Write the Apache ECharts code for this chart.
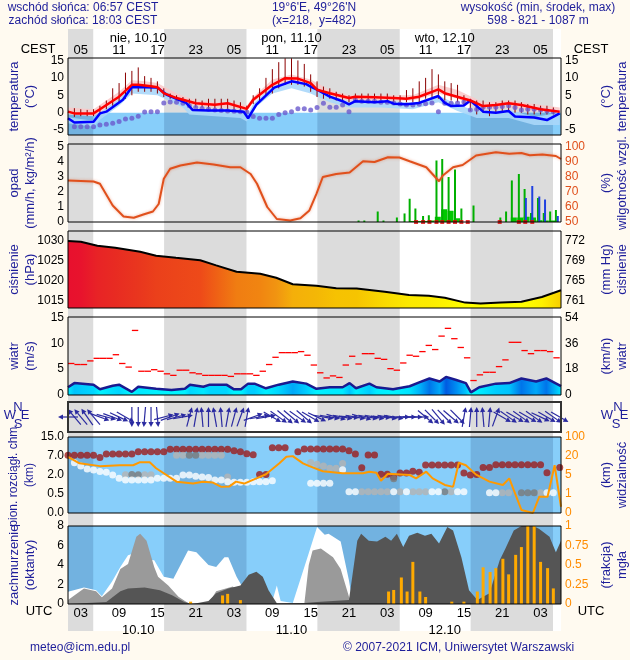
<!DOCTYPE html>
<html><head><meta charset="utf-8">
<script src="https://cdn.jsdelivr.net/npm/echarts@6.0.0/dist/echarts.min.js"></script>
<style>html,body{margin:0;padding:0;background:#fffaf0}#chart{width:630px;height:660px}</style>
</head><body><div id="chart"></div><script>
// ---------------- DATA (hours UTC counted from 10.10 00:00) ----------------
const nightBands = [[1,4.95],[16.05,28.95],[40.05,52.95],[64.05,76.95]];
const gridHours = [3,6,9,12,15,18,21,24,27,30,33,36,39,42,45,48,51,54,57,60,63,66,69,72,75];
const labelHours = [3,9,15,21,27,33,39,45,51,57,63,69,75];
const dayCenters = [12,36,60];
const dayNamesTop = ['nie, 10.10','pon, 11.10','wto, 12.10'];
const dayNamesBottom = ['10.10','11.10','12.10'];

const tempTicks = [-5,0,5,10,15];
const tempRed = [[1,0.3],[2,-0.2],[5,-0.2],[6,1],[9,4.6],[11,8],[12,8],[14,7.6],[15,7.3],[16,5.6],[18,4.2],[21,2.7],[24,2.3],[26,2.7],[29,1.1],[30,3.7],[33,8],[35,9.9],[37,9.8],[39,8.5],[40,6.6],[42,5.6],[45,4.2],[46,4.6],[49,4.4],[52,4.2],[54,4],[56,4.6],[57,5.3],[58,6],[59,6.7],[60,5.6],[64,3.5],[66,1.9],[68,2.2],[70,2.7],[72,2.2],[75,1],[78,0.3]];
const tempBlue = [[1,-1.6],[2,-2.8],[5,-2.6],[6,-0.2],[7,0.3],[9.6,3.7],[11,7.4],[15,7.2],[16.4,5.2],[19.5,2.8],[20.5,0.8],[23,0.6],[26,0.6],[28.5,0.3],[29.2,-1.6],[30.5,2.3],[33.3,7.2],[36,9],[38.3,8.2],[39,7.5],[40,6.6],[42,4.6],[44,3.3],[45,2.4],[46,3.3],[49,3],[51,3.3],[52,2.6],[54,2.4],[56,2.8],[59,4.8],[60,2.8],[61,1.9],[63,2.1],[64,3.5],[66,0.3],[68,0],[70,0.5],[71,-1.1],[74,-1.4],[76,-2.1],[78,-0.2]];
const pinkBand = [[1,-0.5,1.5],[5,-1,1],[9,3,6],[11,7,9.3],[13,7,9],[15,6.5,8.5],[18,3.5,5.5],[21,2,3.5],[24,1.5,3],[27,1.5,3],[29,0.5,2],[30,3,4.5],[33,7,9.5],[36,9,11],[39,7.5,9.5],[42,4.5,6.5],[45,3.5,5],[50,3.5,5],[55,3.5,5],[59,5.5,8],[62,4,6.5],[66,1,3],[70,1.5,3.5],[74,0.5,2.5],[78,0,1.5]];
const lightBlueBand = [[1,-3,-1.3],[5,-4,-2.3],[6,-2,0],[9,2,4],[11,5.5,7.8],[15,5,7.5],[19,1.5,3.2],[20,-0.5,1],[24,-1,1],[28,-1.5,0.6],[29,-2.5,-1.3],[30,1,2.6],[33,5.5,7.5],[36,7,9.4],[39,5.5,8],[42,3,5],[45,1.5,3],[50,1.5,3.5],[55,1,2.8],[59,3,5],[62,0.5,2.3],[65,-1.5,0.5],[70,-1.5,0.8],[74,-3.5,-1.2],[78,-3.5,0]];
const tempWhiskers = [[2,-1.2,1.3],[3,-1,1],[4,-1,0.8],[5,-1,1],[6,0,2],[7,1,3.5],[8,2,7],[9,3,8.5],[10,4,11.5],[11,5,12],[12,6,13],[13,6,10.5],[14,6,10],[15,5.5,9],[16,4.5,7],[17,4,5.5],[18,3.5,5],[19,3,4.5],[20,2.5,4],[21,1.5,4],[22,1.5,3.5],[23,1,4],[24,1,4],[25,1,4],[26,1,4],[27,0.5,3.5],[28,0.5,3],[29,0,2],[30,2.5,5],[31,3,7],[32,5,10],[33,5.5,12.5],[34,7,14.5],[35,8,15.6],[36,8,15.6],[37,8,15],[38,7.5,14],[39,6,11],[40,4.5,9],[41,4,7.5],[42,4,7],[43,3.5,6],[44,3,5.5],[45,3,5],[46,3,5.5],[47,3,5.5],[48,3,5.5],[49,3,5.5],[50,3,5.5],[51,3,5.5],[52,3,5],[53,3,5],[54,3,6.5],[55,3,7],[56,3,9],[57,4,10],[58,4.5,12.5],[59,4,11],[60,3.5,9],[61,3.5,8.5],[62,3,8],[63,2,5],[64,0.5,4],[65,-0.5,3.5],[66,0,3.5],[67,-1,3],[68,0,3],[69,0.5,3.5],[70,0.5,3.5],[71,0,3.5],[72,0,3],[73,-0.5,2.5],[74,-0.5,2.5],[75,-0.5,2],[76,-0.5,2],[77,-0.5,1.5]];
const tempDotsStart = 2;
const tempDots = [-4,-4,-4,-4,-3.5,-3.3,-3,-2.5,-1.8,-1.6,
 -1,0.2,0.3,0.3,2.8,3.1,3,2.7,2,1.5,
 1.2,1,0.8,0.6,0.5,0.4,0.3,0.2,-1.1,-1.6,
 -1.6,-1.6,-0.5,0,0.3,1.1,1.1,0.8,1.5,2.7,
 1.6,1.6,2.2,0.3,3.7,3.3,3.3,3.3,3,3,
 2.8,2.5,2.2,2.2,2.4,2.6,2.8,0.3,2.7,2.7,
 2.8,3.1,0.8,1,1.6,1.6,1.6,1.8,2,1.5,
 0.8,1,1,0.8,0.5,0.3];

const precipTicks = [0,1,2,3,4,5];
const humidityTicks = [50,60,70,80,90,100];
const humidity = [[1,77.7],[5,77],[6,75.5],[8,61],[9.7,53.7],[11.3,52.8],[12.8,55],[14.3,57],[15.2,62],[16,78.8],[17,85.5],[18.6,87.7],[21.2,89.7],[23.8,88.3],[26.4,86.5],[28,86.5],[29.6,82],[30.6,75.5],[32.2,60],[33.7,52],[35.8,51],[37.4,52.5],[38.8,57.7],[39.9,68.8],[40.9,80],[43,82],[45.1,83],[47.2,90.5],[49,90],[51.1,93.2],[52.9,93],[54.5,90.5],[57.1,86.5],[59.1,77.2],[59.7,81],[61.3,86.5],[62.8,88],[64.9,94.3],[68,96.5],[70.1,95.5],[72,96],[73.3,94.5],[75.3,95],[77.4,94],[78.2,92]];
const precipConv = [[46.5,0.1],[47.4,0.1],[49.5,0.7],[50.4,0.1],[52.5,0.3],[53.7,0.57],[54.5,1.55],[55.4,0.9],[56.6,0.4],[57.5,0.45],[58.7,4.1],[59.6,4.2],[60.6,3],[61.6,3.5],[62.6,0.9],[64.5,1.1],[68.7,0.3],[69.6,0.7],[70.5,2.77],[71.6,3.2],[72.5,2.2],[73.5,0.6],[74.6,1.6],[75.5,0.6],[76.5,0.7],[77.4,0.8]];
const precipSnow = [[72.7,1.6],[73.7,2.4],[74.8,1.7],[75.7,1.5],[77.7,0.4]];
const precipLarge = [[54.6,0.07],[55.6,0.07],[56.6,0.07],[57.6,0.1],[58.6,0.35],[59.6,0.85],[60.6,0.75],[61.6,0.25],[70.5,0.3],[71.5,0.3],[72.5,0.35],[73.5,0.3],[74.5,0.12],[75.5,0.1],[76.5,0.1]];
const stormMarks = [55.5,56.6,57.6,58.7,59.6,60.6,61.6,62.6,63.6,68.6,71.6,72.6,73.7];

const pressureTicks = [1015,1020,1025,1030];
const mmHgLabels = ['761','765','769','772'];
const pressure = [[1,1030],[3,1029.8],[5.6,1028.8],[8.4,1028.3],[12.3,1027.3],[14.8,1026.3],[17.9,1025.8],[21.7,1025.2],[24.2,1023.9],[27.4,1022.3],[31.1,1021.8],[33.6,1020.8],[36.2,1019.2],[39.9,1018.8],[43,1018.2],[46.2,1018.1],[50.6,1017.3],[54.4,1016.5],[57.5,1016.3],[60,1015.8],[63.2,1014.6],[65.6,1014.4],[68.8,1014.6],[72,1014.8],[75.2,1016],[78.2,1017.7]];

const windTicks = [0,5,10,15];
const kmhLabels = ['0','18','36','54'];
const windSpeed = [[1,1.5],[2,2.3],[5,2],[6,1.1],[8,1.8],[9,2],[11,0.6],[12,1.6],[14.8,1.2],[17.2,0.95],[19.3,1.2],[20.1,2],[22.2,1.6],[23.2,2],[25.8,2],[27,1.1],[28.1,1.1],[29.2,2.2],[30.2,2.2],[32,1.3],[34,2],[36.2,2.6],[38.3,2.2],[39.9,1.2],[42,1.5],[44,1.5],[45.1,2.3],[46.1,1.3],[48.2,2.2],[49.3,1.5],[51.9,1.1],[54.5,1.7],[56.1,2.5],[57.6,3.2],[59.2,2.6],[60.2,3.5],[61.8,2.9],[63.3,2.3],[64.1,0.5],[65.4,1.5],[68,2.2],[70.1,2.3],[72,3.2],[74.3,2.6],[75.9,3.2],[78.2,1.7]];
const gustStart = 1;
const gusts = [6.1,5.9,5.9,6.6,7.1,7.1,7.1,7.8,6.1,5.4,
 12.5,4.6,4.6,4.9,4.6,4.1,3.8,4.8,4.8,4.3,
 4.1,3.8,3.8,3.8,3.8,3.6,4.1,4.1,4.1,3.8,
 4.6,5.9,7.3,8.2,8.2,8.2,8.4,7.7,5.8,4.3,
 3.3,3.7,3.4,5.8,7.5,6.0,8.0,8.0,7.1,6.9,
 5.1,4.8,6.2,7.7,7.5,8.4,9.6,8.8,11.4,12.9,
 10.9,9.2,7.2,2.8,3.9,4.4,4.4,5.5,6.8,10.2,
 10.2,8.6,8.0,8.6,8.6,8.4,7.2];
const dirStart = 1; // direction the wind blows towards, degrees clockwise from north
const windDir = [270,320,320,325,320,110,105,110,115,120,180,180,185,180,175,75,70,75,80,15,10,355,0,350,355,10,15,20,10,70,80,80,120,125,130,130,125,130,120,115,100,100,105,100,95,100,105,100,100,95,100,100,90,90,90,90,130,135,140,135,130,135,10,5,0,355,5,20,120,125,120,125,120,125,115,120,125,120];

const cbBreaks = [0,0.5,2,7,15];
const cbLabels = ['0.0','0.5','2.0','7.0','15.0'];
const visBreaks = [0,1,5,20,100];
const visLabels = ['0','1','5','20','100'];
const cbHigh = [[1,7.3],[2,7.3],[3,7.3],[4,7.3],[5,7.3],[6,6.6],[7,7.8],[8,7.8],[9,7.8],[10,7.8],[11,7.8],[12,8.8],[13,8.8],[14,8.8],[15,8.8],[16,8.8],[17,9.8],[18,9.8],[19,9.8],[20,9.8],[21,9.8],[22,9.8],[23,9.8],[24,9.8],[25,9.8],[26,9.8],[27,9.2],[28,8.8],[29,8],[30,7.5],[31,2.1],[32,2.1],[33,10.5],[34,10.5],[35,10.5],[37,8.8],[38,9.9],[39,9.9],[40,9.9],[41,9.9],[42,9.9],[43,9.9],[44,9.9],[45,9.2],[46,7.8],[47,3.9],[48,7.4],[49,7.4],[50,2.2],[51,2.2],[52,1.85],[53,2.5],[54,2.5],[55,3],[56,2.7],[57,4.6],[58,4.6],[59,4.6],[60,4.6],[61,4.6],[62,4.6],[63,2.5],[64,2],[65,2.1],[66,4],[67,4],[68,4.7],[69,4.7],[70,4.7],[71,4.7],[72,4.7],[73,4.7],[74,4.7],[75,4.7],[76,2.6],[78,4]];
const cbGrey = [[10,2.05],[13,2.05],[14,2.05],[18,7.3],[19,7.3],[22,7.3],[23,7.3],[24,7.3],[25,7.3],[26,1.85],[39,5.3],[40,4.8],[41,4.4],[42,3.8],[43,3.8],[44,5],[47,0.68],[48,0.68],[49,0.68],[50,0.68],[51,0.68],[53,0.68],[55,0.68],[56,0.68],[57,0.68],[61,0.68],[69,0.6],[70,0.6],[75,0.6]];
const cbDarkGrey = [[11,2.1],[12,2.05],[20,7.3],[21,7.3],[52,1.7],[60,0.68],[72,0.6],[73,0.6],[74,0.6]];
const cbWhite = [[2,5.2],[3,4.4],[4,3.6],[5,3.3],[6,2.9],[7,2.7],[8,2.0],[9,1.74],[10,1.6],[11,1.6],[12,1.6],[13,1.6],[14,1.6],[15,1.74],[16,1.74],[17,1.74],[18,1.74],[19,2.0],[20,2.0],[21,1.9],[22,1.85],[23,1.8],[24,1.6],[25,1.6],[26,1.47],[27,1.42],[28,1.42],[29,1.42],[30,1.47],[31,1.47],[32,1.47],[33,1.55],[39,1.34],[40,1.34],[41,1.34],[42,1.34],[44,3.4],[45,0.68],[46,0.68],[52,0.68],[54,0.68],[58,0.68],[59,0.68],[62,0.68],[63,0.68],[67,0.6],[68,0.6],[76,0.6],[77,0.6]];
const visibility = [[1,19.4],[2.8,14.2],[6,12],[9.1,12.7],[11.2,12.7],[12.2,15],[13.8,15],[14.8,10.3],[18,3.6],[20.6,3.2],[22.1,3.6],[23.7,3.4],[25,2.5],[26.3,2.6],[27.3,3.6],[28.6,3.2],[30.5,4.3],[32,5.6],[34.1,14.2],[35.2,19.4],[36.2,19.9],[37.8,14.2],[38.8,12],[40.9,8],[44,6.35],[47.2,6.35],[48.2,7.6],[49.3,6.8],[50,3.8],[51.1,6],[54.5,5],[55.5,4.3],[57.1,7.6],[58.1,4.3],[60,2.9],[61.3,2.5],[62.2,14.7],[63.3,12.7],[64.9,5.3],[67,3.6],[69.1,2.9],[70.1,4.3],[72,0.16],[73.8,0],[74.8,0.86],[76.1,0.86],[77.2,12.7],[78.2,0.33]];

const cloudTicks = [0,2,4,6,8];
const fogTicks = [0,0.25,0.5,0.75,1];
const cloudWhite = [[1,1.26],[3.5,1.7],[5.4,1.4],[6.3,0.8],[7.9,2.3],[9.2,3.8],[10.4,5],[11.4,5.2],[13,4.6],[14.5,4.5],[16,2.8],[17.5,2.6],[19.8,5.5],[21.1,5.3],[23,4],[24.2,3.8],[25.5,4.8],[26.1,4.8],[27.4,2.8],[28.6,1.4],[30.5,0.4],[33,0.3],[33.7,1.9],[34.3,0.3],[36.2,0.1],[38.7,5.2],[40,7.9],[41.2,7.1],[41.8,7.2],[43.7,6.4],[45,2.4],[45.6,0],[78.2,0]];
const cloudGrey = [[1,0.4],[3.5,1.6],[5.4,1.3],[6.3,0.7],[7.9,1.6],[9.2,3.6],[10.4,4.1],[11.7,6.9],[12.3,7.2],[13.3,6.5],[14.5,3.8],[15.1,2.8],[16.7,1.9],[18.3,0.75],[19.8,0.1],[23,0],[24.2,1.3],[26.8,1.8],[28,1.1],[29.3,0.2],[30.5,0],[38,0],[38.7,4],[39.3,5.5],[40.6,5.7],[42.5,4.8],[43.7,3.6],[45,0.75],[45.6,0],[78.2,0]];
const cloudDark = [[1,0],[7,0.2],[9.2,1.3],[10.4,1.6],[13,1.7],[15.4,1.4],[17.3,0.9],[19.2,0.2],[20.5,0],[23,0.3],[24.2,1.1],[26.1,1.6],[28,1.9],[29.3,3],[30.5,3.3],[31.5,2.8],[32.4,1.4],[33.7,0.07],[38.1,0.1],[40,0.2],[45,0.4],[46.3,6.5],[46.9,7.2],[48.1,6.5],[49.4,6.4],[50.7,6.9],[51.6,6.5],[52.5,7.2],[53.5,5.85],[54.4,7],[55.7,7.3],[56.9,7],[57.9,7.2],[59.1,6.2],[60.4,7.9],[61.3,7.55],[62.6,4.8],[63.8,1.4],[65.1,0.4],[67,1.1],[68.6,4.5],[69.5,5.7],[70.8,7.55],[72,8],[73.9,8],[74.8,7.7],[76.4,6.9],[77.4,5.3],[78.2,6.5]];
const fog = [[20.2,0.03],[25.2,0.11],[26,0.13],[28,0.05],[51.2,0.16],[52,0.18],[53.2,0.34],[54.1,0.16],[55,0.54],[56.1,0.16],[57,0.09],[61.1,0.03],[63,0.03],[65.1,0.16],[66,0.47],[67.1,0.41],[68,0.46],[69.1,0.58],[70,0.38],[71.1,0.63],[72,0.73],[73,1],[74,1],[75,0.54],[76.1,0.46],[77,0.2]];

// ---------------- LAYOUT / STYLE ----------------
const X_MIN = 1, X_MAX = 78.2;
const FONT = '"Liberation Sans", Arial, sans-serif';
const NAVY = '#1e1e9a';
const DASH = {color:'#000', type:[3,2], width:1};
const panels = [
  {top:29, height:602}, {top:58, height:77}, {top:144, height:78}, {top:231, height:77},
  {top:317, height:78}, {top:402, height:30}, {top:437, height:76}, {top:526, height:78}
];
const pad = v => (v < 10 ? '0' : '') + v;
function toIdx(v, br){ for (let i=1;i<br.length;i++){ if (v<=br[i]) return i-1+(v-br[i-1])/(br[i]-br[i-1]); } return br.length-1; }
function rgb(c){ return 'rgb('+c.join(',')+')'; }
function mix(stops, v){
  if (v<=stops[0][0]) return rgb(stops[0][1]);
  for (let i=1;i<stops.length;i++){ if (v<=stops[i][0]){ const t=(v-stops[i-1][0])/(stops[i][0]-stops[i-1][0]); const a=stops[i-1][1], b=stops[i][1]; return rgb(a.map((x,k)=>Math.round(x+(b[k]-x)*t))); } }
  return rgb(stops[stops.length-1][1]);
}
function hGradient(data, stops){
  const h0=data[0][0], hN=data[data.length-1][0];
  return {type:'linear', x:0, y:0, x2:1, y2:0, global:false, colorStops: data.map(d=>({offset:(d[0]-h0)/(hN-h0), color:mix(stops, d[1])}))};
}
const pressureColors = [[1015,[255,255,0]],[1017,[250,226,0]],[1018,[246,198,0]],[1020,[242,160,16]],[1022.5,[240,122,18]],[1025,[238,76,24]],[1028,[232,48,32]],[1030,[232,16,46]]];
const windColors = [[0.5,[0,255,255]],[1.5,[0,236,255]],[2.2,[0,205,255]],[2.8,[0,150,245]],[3.5,[0,90,225]]];

const grid = panels.map((p,i)=>({left:68, width:493, top:p.top, height:p.height, show:i>0, backgroundColor:'transparent', borderColor:i===5?'#333':'#000', borderWidth:i===5?2:1, z:10, containLabel:false, outerBoundsMode:'none'}));

const xAxis = panels.map((p,i)=>({type:'value', gridIndex:i, min:X_MIN, max:X_MAX,
  axisLine:{show:false}, axisTick:{show:false, customValues:gridHours},
  axisLabel: i===7 ? {show:true, customValues:labelHours, formatter:v=>pad(v%24), color:'#000', fontSize:13, fontFamily:FONT, margin:3} : {show:false},
  splitLine:{show:i>0, lineStyle:DASH}}));
xAxis.push({type:'value', gridIndex:1, position:'top', min:X_MIN, max:X_MAX, axisLine:{show:false}, axisTick:{show:false}, splitLine:{show:false},
  axisLabel:{customValues:labelHours, formatter:v=>pad((v+2)%24), color:'#000', fontSize:13, fontFamily:FONT, margin:1}});
xAxis.push({type:'value', gridIndex:1, position:'top', offset:12, min:X_MIN, max:X_MAX, axisLine:{show:false}, axisTick:{show:false}, splitLine:{show:false},
  axisLabel:{customValues:dayCenters, formatter:v=>dayNamesTop[dayCenters.indexOf(v)], color:'#000', fontSize:13, fontFamily:FONT, margin:1}});
xAxis.push({type:'value', gridIndex:7, position:'bottom', offset:17, min:X_MIN, max:X_MAX, axisLine:{show:false}, axisTick:{show:false}, splitLine:{show:false},
  axisLabel:{customValues:dayCenters, formatter:v=>dayNamesBottom[dayCenters.indexOf(v)], color:'#000', fontSize:13, fontFamily:FONT, margin:3}});

function yAx(gi, pos, min, max, ticks, fmt, color, name, gap, split, nameSize){
  return {type:'value', gridIndex:gi, position:pos, min, max,
    axisLine:{show:false}, axisTick:{show:false, customValues:ticks},
    axisLabel:{show:!!ticks, customValues:ticks, formatter:fmt, color, fontSize:12, fontFamily:FONT, margin:4},
    splitLine:{show:!!split, lineStyle:DASH},
    name, nameLocation:'middle', nameRotate:90, nameGap:gap, nameMoveOverlap:false,
    nameTextStyle:{color:NAVY, fontSize:nameSize||13, lineHeight:16, fontFamily:FONT}};
}
const yAxis = [
  {type:'value', gridIndex:0, min:0, max:1, show:false},                                   //0 bg
  yAx(1,'left',-6.4,15.7,tempTicks,v=>String(v),'#000','temperatura\n(°C)',30,true),        //1
  yAx(1,'right',-6.4,15.7,tempTicks,v=>String(v),'#000','(°C)\ntemperatura',37,false),      //2
  yAx(2,'left',0,5.2,precipTicks,v=>String(v),'#000','opad\n(mm/h, kg/m²/h)',30,true),      //3
  yAx(2,'right',50,102,humidityTicks,v=>String(v),'#e0501c','(%)\nwilgotność wzgl.',37,false), //4
  yAx(3,'left',1013.25,1032.5,pressureTicks,v=>String(v),'#000','ciśnienie\n(hPa)',30,true),  //5
  yAx(3,'right',1013.25,1032.5,pressureTicks,v=>mmHgLabels[pressureTicks.indexOf(v)],'#000','(mm Hg)\nciśnienie',37,false), //6
  yAx(4,'left',0,15.1,windTicks,v=>String(v),'#000','wiatr\n(m/s)',30,true),                //7
  yAx(4,'right',0,15.1,windTicks,v=>kmhLabels[windTicks.indexOf(v)],'#000','(km/h)\nwiatr',37,false), //8
  {type:'value', gridIndex:5, min:0, max:1, show:false},                                   //9
  yAx(6,'left',0,4,[0,1,2,3,4],v=>cbLabels[v],'#000','pion. rozciągł. chm.\n(km)',30,true,12), //10
  yAx(6,'right',0,4,[0,1,2,3,4],v=>visLabels[v],'#ff8c00','(km)\nwidzialność',37,false),   //11
  yAx(7,'left',0,8,cloudTicks,v=>String(v),'#000','zachmurzenie\n(oktanty)',30,true),       //12
  yAx(7,'right',0,1,fogTicks,v=>String(v),'#ff8c00','(frakcja)\nmgła',37,false)             //13
];

// ---------------- SERIES ----------------
const S = [];
function rectSeries(xi, yi, ranges, yLo, yHi, color, z){
  S.push({type:'custom', xAxisIndex:xi, yAxisIndex:yi, z, silent:true,
    data: ranges.map(r=>[r[0], r[1]]), encode:{x:[0,1]},
    renderItem:(p, api)=>{ const a=api.coord([api.value(0), yHi]); const b=api.coord([api.value(1), yLo]);
      return {type:'rect', shape:{x:a[0], y:a[1], width:b[0]-a[0], height:b[1]-a[1]}, style:{fill:color}}; }});
}
function bandSeries(xi, yi, tri, color, z){
  S.push({type:'custom', xAxisIndex:xi, yAxisIndex:yi, z, silent:true, data:[[tri[0][0], tri[0][1]]], encode:{x:0, y:1},
    renderItem:(p, api)=>{ const up=tri.map(d=>api.coord([d[0],d[2]])); const lo=tri.slice().reverse().map(d=>api.coord([d[0],d[1]]));
      return {type:'polygon', shape:{points:up.concat(lo)}, style:{fill:color}}; }});
}
function lineS(xi, yi, data, color, width, z, extra){
  S.push(Object.assign({type:'line', xAxisIndex:xi, yAxisIndex:yi, data, symbol:'none', z, silent:true,
    lineStyle:{color, width}}, extra||{}));
}
const FULL = [[X_MIN, X_MAX]];
rectSeries(0,0,FULL,0,1,'#ffffff',0);
rectSeries(0,0,nightBands,0,1,'#dcdcdc',0);

// temperature
rectSeries(1,1,FULL,-6.4,0,'#87cefa',1);
rectSeries(1,1,nightBands,-6.4,0,'#72b2e0',1);
bandSeries(1,1,pinkBand,'rgba(250,200,200,0.85)',2);
bandSeries(1,1,lightBlueBand,'rgba(170,215,250,0.9)',2);
S.push({type:'custom', xAxisIndex:1, yAxisIndex:1, z:3, silent:true, data:tempWhiskers, encode:{x:0, y:[1,2]},
  renderItem:(p, api)=>{ const a=api.coord([api.value(0), api.value(1)]), b=api.coord([api.value(0), api.value(2)]);
    return {type:'line', shape:{x1:a[0], y1:a[1], x2:b[0], y2:b[1]}, style:{stroke:'#8b0000', lineWidth:1}}; }});
S.push({type:'scatter', xAxisIndex:1, yAxisIndex:1, z:3, silent:true, symbolSize:5,
  itemStyle:{color:'#6a5acd'}, data: tempDots.map((v,i)=>[tempDotsStart+i, v])});
lineS(1,1,tempBlue,'#0000ff',2.5,4);
lineS(1,1,tempRed,'#ff0000',2.5,5);

// precipitation & humidity
S.push({type:'bar', xAxisIndex:2, yAxisIndex:3, z:3, silent:true, barWidth:6, barGap:'-100%', itemStyle:{color:'#00c800'}, data:precipLarge});
S.push({type:'bar', xAxisIndex:2, yAxisIndex:3, z:4, silent:true, barWidth:2, barGap:'-100%', itemStyle:{color:'#00b000'}, data:precipConv});
S.push({type:'bar', xAxisIndex:2, yAxisIndex:3, z:4, silent:true, barWidth:2, barGap:'-100%', itemStyle:{color:'#2040e0'}, data:precipSnow});
S.push({type:'scatter', xAxisIndex:2, yAxisIndex:3, z:5, silent:true, symbol:'rect', symbolSize:4, itemStyle:{color:'#e00000'}, data:stormMarks.map(h=>[h,0])});
lineS(2,4,humidity,'#e0501c',2,6,{lineStyle:{color:'#e0501c', width:2, shadowColor:'rgba(224,80,28,0.45)', shadowBlur:3}});

// pressure
lineS(3,5,pressure,'#000',2,4,{areaStyle:{origin:'start', color:hGradient(pressure, pressureColors), opacity:1}});

// wind
lineS(4,7,windSpeed,'#1a1a90',2.5,4,{areaStyle:{origin:'start', color:hGradient(windSpeed, windColors), opacity:1}});
S.push({type:'custom', xAxisIndex:4, yAxisIndex:7, z:5, silent:true, data:gusts.map((v,i)=>[gustStart+i, v]), encode:{x:0, y:1},
  renderItem:(p, api)=>{ const a=api.coord([api.value(0), api.value(1)]), b=api.coord([api.value(0)+1, api.value(1)]);
    return {type:'line', shape:{x1:a[0], y1:a[1], x2:b[0], y2:b[1]}, style:{stroke:'#ff0000', lineWidth:1.3}}; }});

// wind direction arrows
S.push({type:'custom', xAxisIndex:5, yAxisIndex:9, z:5, silent:true, data:windDir.map((d,i)=>[dirStart+i, d]), encode:{x:0},
  renderItem:(p, api)=>{
    const a=api.value(1)*Math.PI/180, c=api.coord([api.value(0), 0.5]);
    const ux=Math.sin(a), uy=-Math.cos(a), L=10, hl=5, hw=2.6;
    const tip=[c[0]+ux*L, c[1]+uy*L], tail=[c[0]-ux*L, c[1]-uy*L], base=[tip[0]-ux*hl, tip[1]-uy*hl];
    return {type:'group', children:[
      {type:'line', shape:{x1:tail[0], y1:tail[1], x2:base[0], y2:base[1]}, style:{stroke:'#2a2aa0', lineWidth:1.2}},
      {type:'polygon', shape:{points:[tip,[base[0]-uy*hw, base[1]+ux*hw],[base[0]+uy*hw, base[1]-ux*hw]]}, style:{fill:'#2a2aa0'}}]};
  }});

// cloud base / visibility
rectSeries(6,10,FULL,0,4,'#87cefa',1);
rectSeries(6,10,nightBands,0,4,'#72b2e0',1);
const dotS = (data, color) => S.push({type:'scatter', xAxisIndex:6, yAxisIndex:10, z:3, silent:true, symbolSize:7, itemStyle:{color}, data:data.map(d=>[d[0], toIdx(d[1], cbBreaks)])});
dotS(cbHigh,'#9c1c1c'); dotS(cbGrey,'#b4b4b4'); dotS(cbDarkGrey,'#7a7a7a'); dotS(cbWhite,'#ffffff');
lineS(6,11,visibility.map(d=>[d[0], toIdx(d[1], visBreaks)]),'#ff9900',2,5);

// cloud cover & fog
rectSeries(7,12,FULL,0,8,'#87cefa',1);
rectSeries(7,12,nightBands,0,8,'#72b2e0',1);
lineS(7,12,cloudWhite,'#ffffff',0,3,{areaStyle:{origin:'start', color:'#ffffff', opacity:1}});
lineS(7,12,cloudGrey,'#9a9a9a',0,3,{areaStyle:{origin:'start', color:'#9a9a9a', opacity:1}});
lineS(7,12,cloudDark,'#555555',0,3,{areaStyle:{origin:'start', color:'#555555', opacity:1}});
S.push({type:'bar', xAxisIndex:7, yAxisIndex:13, z:5, silent:true, barWidth:3, itemStyle:{color:'#ffaa00'}, data:fog});

// ---------------- TEXT ----------------
const txt = (text, x, y, align, color, size) => ({type:'text', x, y, silent:true, z:20,
  style:{text, x:0, y:0, align:align, textAlign:align, verticalAlign:'middle', textVerticalAlign:'middle', fill:color, font:(size||12)+'px '+FONT}});
const graphic = [
  txt('wschód słońca: 06:57 CEST',83,8,'center',NAVY), txt('zachód słońca: 18:03 CEST',83,21,'center',NAVY),
  txt("19°6'E, 49°26'N",314,8,'center',NAVY), txt('(x=218,  y=482)',314,21,'center',NAVY),
  txt('wysokość (min, środek, max)',538,8,'center',NAVY), txt('598 - 821 - 1087 m',538,21,'center',NAVY),
  txt('CEST',38,49,'center','#000',13), txt('CEST',591,49,'center','#000',13),
  txt('UTC',39,611,'center','#000',13), txt('UTC',591,611,'center','#000',13),
  txt('N',18,407,'center',NAVY,13), txt('W',10,415,'center',NAVY,13), txt('E',25,415,'center',NAVY,13), txt('S',18,424,'center',NAVY,13),
  txt('N',618,407,'center',NAVY,13), txt('W',607,415,'center',NAVY,13), txt('E',624,415,'center',NAVY,13), txt('S',616,424,'center',NAVY,13),
  txt('meteo@icm.edu.pl',30,648,'left',NAVY,12), txt('© 2007-2021 ICM, Uniwersytet Warszawski',343,648,'left',NAVY,12)
];

const option = {animation:false, backgroundColor:'#fffaf0', grid, xAxis, yAxis, series:S, graphic};
const chart = echarts.init(document.getElementById('chart'));
chart.setOption(option);
</script></body></html>
